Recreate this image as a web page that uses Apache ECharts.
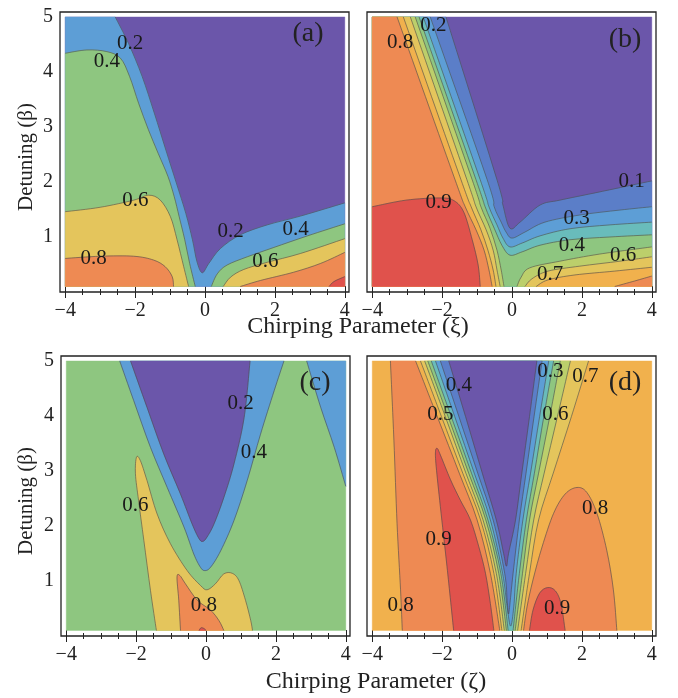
<!DOCTYPE html>
<html><head><meta charset="utf-8">
<script src="https://cdn.jsdelivr.net/npm/echarts@6/dist/echarts.min.js"></script>
<style>html,body{margin:0;padding:0;background:#fff}#c{width:678px;height:698px}</style>
</head><body><div id="c"></div><script>
// ---------- tick values ----------
const xMajorTicks = [-4, -2, 0, 2, 4];
const xMinorTicks = [-3.5, -3, -2.5, -1.5, -1, -0.5, 0.5, 1, 1.5, 2.5, 3, 3.5];
const yMajorTicks = [1, 2, 3, 4, 5];
const yMinorTicks = [0.2,0.4,0.6,0.8,1.2,1.4,1.6,1.8,2.2,2.4,2.6,2.8,3.2,3.4,3.6,3.8,4.2,4.4,4.6,4.8];
// data domain (xi or zeta from -4 to 4, beta from 0.1 to 5)
const domainX = [-4, 4];
const domainY = [0.1, 5];

// ---------- panel (a) contour lines ----------
const a_c02 = [[-2.57,5],[-2.19,4.52],[-1.8,3.92],[-1.45,3.25],[-1.12,2.58],[-0.82,1.98],[-0.55,1.43],[-0.36,0.95],[-0.23,0.55],[-0.08,0.35],[0.11,0.52],[0.44,0.79],[1.01,1.04],[1.78,1.22],[2.73,1.38],[4,1.62]];
const a_c04L = [[-4,4.34],[-3.38,4.4],[-2.81,4.37],[-2.42,4.25],[-2.16,3.92],[-1.9,3.43],[-1.62,2.95],[-1.34,2.52],[-1.06,2.1],[-0.88,1.73],[-0.74,1.37],[-0.58,0.95],[-0.44,0.52],[-0.28,0.1]];
const a_c04R = [[0.18,0.1],[0.35,0.33],[0.63,0.49],[1.21,0.64],[1.97,0.81],[2.93,1.02],[4,1.24]];
const a_c06L = [[-4,1.46],[-3,1.54],[-2.04,1.67],[-1.61,1.76],[-1.28,1.67],[-0.99,1.37],[-0.8,0.95],[-0.61,0.46],[-0.47,0.1]];
const a_c06R = [[0.52,0.1],[0.73,0.27],[1.11,0.41],[1.78,0.54],[2.73,0.7],[4,0.97]];
const a_c08L = [[-4,0.61],[-3,0.65],[-2.04,0.65],[-1.47,0.58],[-1.14,0.46],[-0.94,0.28],[-0.9,0.1]];
const a_c08R = [[1.01,0.1],[1.59,0.21],[2.54,0.36],[3.31,0.52],[4,0.72]];
const a_c10 = [[3.55,0.1],[3.69,0.19],[4,0.28]];
const a_labels = [[-2.14,4.52,'0.2'],[-2.81,4.19,'0.4'],[-1.99,1.67,'0.6'],[-3.19,0.61,'0.8'],[0.73,1.1,'0.2'],[2.59,1.13,'0.4'],[1.73,0.55,'0.6']];

// ---------- panel (b) contour lines ----------
const b_c01 = [[-1.89,5],[-0.43,2.04],[-0.26,1.58],[-0.06,1.16],[0.23,1.27],[0.8,1.58],[1.37,1.67],[2.51,1.82],[4,2.02]];
const b_c02 = [[-2.34,5],[-0.71,2.04],[-0.51,1.55],[-0.31,1.27],[-0.17,1.09],[0,0.98],[0.37,1.09],[0.94,1.27],[1.94,1.4],[3.09,1.49],[4,1.55]];
const b_c03 = [[-2.54,5],[-0.91,2.04],[-0.66,1.55],[-0.43,1.22],[-0.26,0.98],[-0.06,0.82],[0.29,0.89],[0.8,1.02],[1.66,1.15],[2.8,1.22],[4,1.27]];
const b_c04 = [[-2.66,5],[-1.03,2.04],[-0.77,1.55],[-0.51,1.16],[-0.29,0.85],[-0.06,0.67],[0.29,0.73],[0.8,0.85],[1.66,0.95],[2.8,1.0],[4,1.04]];
const b_c05L = [[-2.77,5],[-1.14,2.04],[-0.89,1.55],[-0.63,1.16],[-0.43,0.76],[-0.31,0.4],[-0.23,0.1]];
const b_c05R = [[0.14,0.1],[0.26,0.27],[0.51,0.44],[1.37,0.56],[2.51,0.69],[4,0.82]];
const b_c06L = [[-2.91,5],[-1.29,2.04],[-1.03,1.55],[-0.74,1.13],[-0.54,0.76],[-0.43,0.4],[-0.34,0.1]];
const b_c06R = [[0.37,0.1],[0.57,0.24],[1.03,0.38],[1.94,0.47],[3.09,0.56],[4,0.64]];
const b_c07L = [[-3.11,5],[-1.46,2.04],[-1.17,1.55],[-0.89,1.13],[-0.69,0.76],[-0.54,0.4],[-0.46,0.1]];
const b_c07R = [[0.69,0.1],[1.03,0.22],[1.8,0.31],[2.94,0.38],[4,0.45]];
const b_c08L = [[-3.29,5],[-1.63,2.04],[-1.34,1.55],[-1.03,1.13],[-0.8,0.76],[-0.66,0.4],[-0.57,0.1]];
const b_c08R = [[2.94,0.1],[3.51,0.2],[4,0.29]];
const b_c09 = [[-4,1.55],[-3.03,1.67],[-2.06,1.71],[-1.66,1.66],[-1.38,1.45],[-1.14,0.95],[-0.97,0.49],[-0.91,0.1]];
const b_labels = [[-2.25,4.85,'0.2'],[-3.2,4.53,'0.8'],[-2.1,1.63,'0.9'],[3.42,2.01,'0.1'],[1.85,1.34,'0.3'],[1.71,0.85,'0.4'],[3.18,0.67,'0.6'],[1.09,0.31,'0.7']];

// ---------- panel (c) contour lines ----------
const c_c02 = [[-2.16,5],[-1.69,4.16],[-1.21,3.31],[-0.73,2.58],[-0.4,2.04],[-0.2,1.77],[-0.09,1.72],[0.03,1.8],[0.23,2.04],[0.51,2.52],[0.8,3.13],[1.09,3.97],[1.26,5]];
const c_c04V = [[-2.47,5],[-2.07,4.28],[-1.59,3.43],[-1.11,2.7],[-0.63,1.98],[-0.35,1.49],[-0.16,1.25],[-0.04,1.19],[0.13,1.25],[0.42,1.55],[0.8,2.1],[1.18,2.83],[1.56,3.67],[1.95,4.46],[2.23,5]];
const c_c04R = [[2.88,5],[3.28,4.16],[3.67,3.43],[4,2.72]];
const c_c06 = [[-1.42,0.1],[-1.59,0.83],[-1.78,1.74],[-1.93,2.46],[-2.02,2.95],[-1.99,3.25],[-1.88,3.19],[-1.69,2.83],[-1.4,2.22],[-1.02,1.68],[-0.54,1.19],[-0.16,0.92],[0.03,0.84],[0.27,0.95],[0.51,1.13],[0.75,1.14],[0.94,1.01],[1.13,0.65],[1.28,0.28],[1.33,0.1]];
const c_c08 = [[-0.73,0.1],[-0.78,0.65],[-0.83,1.07],[-0.75,1.1],[-0.59,0.95],[-0.25,0.65],[0.13,0.47],[0.37,0.28],[0.51,0.1]];
const c_c10 = [[-0.2,0.1],[-0.14,0.15],[-0.04,0.13],[-0.01,0.1]];
const c_labels = [[0.99,4.22,'0.2'],[1.37,3.34,'0.4'],[-2.02,2.37,'0.6'],[-0.06,0.56,'0.8']];

// ---------- panel (d) contour lines ----------
const d_c08o = [[-3.48,5],[-3.38,3.56],[-3.29,2.05],[-3.19,0.84],[-3.14,0.1]];
const d_c08L = [[-2.76,5],[-2.14,3.99],[-1.51,2.96],[-1.0,2.11],[-0.62,1.14],[-0.35,0.1]];
const d_c07L = [[-2.62,5],[-2.02,3.99],[-1.41,2.96],[-0.9,2.11],[-0.52,1.14],[-0.29,0.1]];
const d_c06L = [[-2.5,5],[-1.91,3.99],[-1.32,2.96],[-0.83,2.11],[-0.45,1.14],[-0.22,0.1]];
const d_c05L = [[-2.41,5],[-1.83,3.99],[-1.24,2.96],[-0.75,2.11],[-0.38,1.14],[-0.16,0.1]];
const d_c04L = [[-2.31,5],[-1.74,3.99],[-1.16,2.96],[-0.69,2.11],[-0.32,1.14],[-0.11,0.1]];
const d_c03 = [[-2.19,5],[-1.64,3.99],[-1.08,2.96],[-0.62,2.11],[-0.27,1.14],[-0.14,0.53],[-0.04,0.18],[0.05,0.53],[0.12,1.14],[0.31,2.11],[0.53,2.96],[0.79,3.99],[1.05,5]];
const d_c02 = [[-2.05,5],[-1.52,3.99],[-0.98,2.96],[-0.54,2.11],[-0.21,1.14],[-0.14,0.65],[-0.1,0.4],[-0.05,0.65],[0.03,1.14],[0.21,2.11],[0.4,2.96],[0.63,3.99],[0.86,5]];
const d_c01 = [[-1.81,5],[-1.33,3.99],[-0.85,2.96],[-0.45,2.11],[-0.24,1.5],[-0.16,1.27],[-0.1,1.5],[0.1,2.11],[0.28,2.96],[0.5,3.99],[0.71,5]];
const d_c04R = [[0.03,0.1],[0.21,1.14],[0.41,2.11],[0.64,2.96],[0.91,3.99],[1.19,5]];
const d_c05R = [[0.09,0.1],[0.3,1.14],[0.5,2.11],[0.76,2.96],[1.08,3.99],[1.38,5]];
const d_c06R = [[0.16,0.1],[0.39,1.14],[0.62,2.11],[0.92,2.96],[1.3,3.99],[1.67,5]];
const d_c07R = [[0.26,0.1],[0.5,1.14],[0.76,2.11],[1.18,2.96],[1.7,3.99],[2.19,5]];
const d_c09L = [[-1.67,0.1],[-1.86,1.26],[-2.05,2.35],[-2.17,3.08],[-2.19,3.35],[-2.14,3.41],[-2.05,3.29],[-1.76,2.84],[-1.48,2.47],[-1.19,2.11],[-0.95,1.62],[-0.76,1.14],[-0.62,0.59],[-0.52,0.1]];
const d_c08R = [[0.33,0.1],[0.43,0.53],[0.6,1.02],[0.86,1.62],[1.19,2.23],[1.52,2.58],[1.86,2.7],[2.14,2.61],[2.43,2.23],[2.71,1.56],[2.9,0.84],[3.0,0.1]];
const d_c09R = [[0.5,0.1],[0.6,0.47],[0.79,0.78],[1.02,0.88],[1.24,0.82],[1.4,0.59],[1.52,0.1]];
const d_labels = [[-1.52,4.56,'0.4'],[-2.05,4.02,'0.5'],[1.1,4.81,'0.3'],[2.1,4.72,'0.7'],[1.24,4.02,'0.6'],[2.38,2.32,'0.8'],[-2.1,1.75,'0.9'],[-3.19,0.56,'0.8'],[1.29,0.5,'0.9']];

// ---------- styles ----------
const COL = {
  purple:'#6b56aa', blue:'#5b7ec8', lblue:'#5d9ed6', teal:'#69bcbb', green:'#8ec680',
  ygreen:'#bccf6b', yellow:'#e4c55c', yorange:'#f1b14d', orange:'#ee8a53', red:'#e0524c'
};
const LINE_COLOR = 'rgba(75,75,75,0.6)';
const SERIF = '"Liberation Serif","DejaVu Serif",serif';
const XLO = -4.15, XHI = 4.12, YLO = 0, YHI = 5.09;
const GRIDS = [{left:60,top:12},{left:367,top:12},{left:61,top:356},{left:367,top:356}];

// ---------- region construction ----------
const BL=[domainX[0],domainY[0]], BR=[domainX[1],domainY[0]], TL=[domainX[0],domainY[1]], TR=[domainX[1],domainY[1]];
const rev = a => a.slice().reverse();
const R = (segs, corners, color) => ({segs, corners, color});
const RECT = [BL, BR, TR, TL];

const panels = [
  { regions: [
      R([], RECT, COL.purple),
      R([a_c02], [BR,BL,TL], COL.lblue),
      R([a_c04L], [BL], COL.green), R([a_c04R], [BR], COL.green),
      R([a_c06L], [BL], COL.yellow), R([a_c06R], [BR], COL.yellow),
      R([a_c08L], [BL], COL.orange), R([a_c08R], [BR], COL.orange),
      R([a_c10], [BR], COL.red)],
    lines: [a_c02,a_c04L,a_c04R,a_c06L,a_c06R,a_c08L,a_c08R,a_c10], labels: a_labels },
  { regions: [
      R([], RECT, COL.purple),
      R([b_c01], [BR,BL,TL], COL.blue),
      R([b_c02], [BR,BL,TL], COL.lblue),
      R([b_c03], [BR,BL,TL], COL.teal),
      R([b_c04], [BR,BL,TL], COL.green),
      R([b_c05L], [BL,TL], COL.ygreen), R([b_c05R], [BR], COL.ygreen),
      R([b_c06L], [BL,TL], COL.yellow), R([b_c06R], [BR], COL.yellow),
      R([b_c07L], [BL,TL], COL.yorange), R([b_c07R], [BR], COL.yorange),
      R([b_c08L], [BL,TL], COL.orange), R([b_c08R], [BR], COL.orange),
      R([b_c09], [BL], COL.red)],
    lines: [b_c01,b_c02,b_c03,b_c04,b_c05L,b_c05R,b_c06L,b_c06R,b_c07L,b_c07R,b_c08L,b_c08R,b_c09], labels: b_labels },
  { regions: [
      R([], RECT, COL.green),
      R([c_c04V], [], COL.lblue), R([c_c04R], [TR], COL.lblue),
      R([c_c02], [], COL.purple),
      R([c_c06], [], COL.yellow),
      R([c_c08], [], COL.orange),
      R([c_c10], [], COL.red)],
    lines: [c_c02,c_c04V,c_c04R,c_c06,c_c08,c_c10], labels: c_labels },
  { regions: [
      R([], RECT, COL.yorange),
      R([d_c08o, rev(d_c08L)], [], COL.orange),
      R([d_c09L], [], COL.red),
      R([d_c07L, d_c07R], [], COL.yellow),
      R([d_c06L, d_c06R], [], COL.ygreen),
      R([d_c05L, d_c05R], [], COL.green),
      R([d_c04L, d_c04R], [], COL.teal),
      R([d_c03], [], COL.lblue),
      R([d_c02], [], COL.blue),
      R([d_c01], [], COL.purple),
      R([d_c08R], [], COL.orange),
      R([d_c09R], [], COL.red)],
    lines: [d_c08o,d_c08L,d_c07L,d_c06L,d_c05L,d_c04L,d_c03,d_c02,d_c01,d_c04R,d_c05R,d_c06R,d_c07R,d_c09L,d_c08R,d_c09R], labels: d_labels }
];

// smooth curve through pixel points (Catmull-Rom as cubic Bezier)
function spline(P){
  let d='';
  for (let i=0;i<P.length-1;i++){
    const p0=P[i-1]||P[i], p1=P[i], p2=P[i+1], p3=P[i+2]||P[i+1];
    const c1=[p1[0]+(p2[0]-p0[0])/6, p1[1]+(p2[1]-p0[1])/6];
    const c2=[p2[0]-(p3[0]-p1[0])/6, p2[1]-(p3[1]-p1[1])/6];
    d+=' C'+c1[0].toFixed(2)+','+c1[1].toFixed(2)+' '+c2[0].toFixed(2)+','+c2[1].toFixed(2)+' '+p2[0].toFixed(2)+','+p2[1].toFixed(2);
  }
  return d;
}
function regionPath(r, api){
  let d='', started=false;
  r.segs.forEach(s=>{
    const P=s.map(p=>api.coord(p));
    d+=(started?' L':'M')+P[0][0]+','+P[0][1]; started=true;
    d+=spline(P);
  });
  r.corners.forEach(c=>{ const p=api.coord(c); d+=(started?' L':'M')+p[0]+','+p[1]; started=true; });
  return d+' Z';
}
function linePath(s, api){
  const P=s.map(p=>api.coord(p));
  return 'M'+P[0][0]+','+P[0][1]+spline(P);
}

// ---------- axes ----------
const fmt = v => String(v).replace('-', '\u2212');
function axisDef(kind, gi, pos, ticks, len, showLabel){
  return {
    type:'value', gridIndex:gi, position:pos,
    min: kind==='x'?XLO:YLO, max: kind==='x'?XHI:YHI,
    axisLine:{show:false}, splitLine:{show:false},
    axisTick:{show:true, inside:true, length:len, customValues:ticks, lineStyle:{color:'#222', width:1}},
    axisLabel:{show:showLabel, customValues:ticks, margin: kind==='x'?9:7, color:'#222',
      fontFamily:SERIF, fontSize:20, formatter:fmt}
  };
}
const xAxes=[], yAxes=[];
GRIDS.forEach((g,gi)=>{
  xAxes.push(axisDef('x',gi,'bottom',xMajorTicks,6,true));
  xAxes.push(axisDef('x',gi,'bottom',xMinorTicks,3,false));
  xAxes.push(axisDef('x',gi,'top',xMajorTicks,6,false));
  xAxes.push(axisDef('x',gi,'top',xMinorTicks,3,false));
  yAxes.push(axisDef('y',gi,'left',yMajorTicks,6,gi%2===0));
  yAxes.push(axisDef('y',gi,'left',yMinorTicks,3,false));
  yAxes.push(axisDef('y',gi,'right',yMajorTicks,6,false));
  yAxes.push(axisDef('y',gi,'right',yMinorTicks,3,false));
});

// ---------- series ----------
const series=[];
panels.forEach((p,gi)=>{
  series.push({
    type:'custom', xAxisIndex:4*gi, yAxisIndex:4*gi, silent:true, z:2, animation:false,
    data: p.regions.map(r => (r.segs.length? r.segs[0][0] : r.corners[0])),
    renderItem:(params, api)=>{
      const r=p.regions[params.dataIndex];
      return {type:'path', z2:params.dataIndex, shape:{pathData:regionPath(r, api)},
        style:{fill:r.color, stroke:r.color, lineWidth:0.4}};
    }
  });
  series.push({
    type:'custom', xAxisIndex:4*gi, yAxisIndex:4*gi, silent:true, z:3, animation:false,
    data: p.lines.map(s=>s[0]),
    renderItem:(params, api)=>({type:'path', shape:{pathData:linePath(p.lines[params.dataIndex], api)},
      style:{fill:null, stroke:LINE_COLOR, lineWidth:1}})
  });
  series.push({
    type:'custom', xAxisIndex:4*gi, yAxisIndex:4*gi, silent:true, z:4, animation:false,
    data: p.labels,
    renderItem:(params, api)=>{
      const v=p.labels[params.dataIndex]; const c=api.coord([v[0],v[1]]);
      return {type:'text', x:c[0], y:c[1], style:{text:v[2], fill:'#1a1a1a', font:'21px '+SERIF,
        align:'center', verticalAlign:'middle'}};
    }
  });
});

const option = {
  animation:false,
  backgroundColor:'#fff',
  grid: GRIDS.map(g=>({left:g.left, top:g.top, width:289, height:280, show:true,
    borderColor:'#222', borderWidth:1.3, backgroundColor:'#fff', containLabel:false})),
  xAxis:xAxes, yAxis:yAxes, series,
  graphic:[
    {type:'text', x:26, y:157, rotation:Math.PI/2, style:{text:'Detuning (\u03b2)', font:'21px '+SERIF, fill:'#222', align:'center', verticalAlign:'middle'}},
    {type:'text', x:26, y:501, rotation:Math.PI/2, style:{text:'Detuning (\u03b2)', font:'21px '+SERIF, fill:'#222', align:'center', verticalAlign:'middle'}},
    {type:'text', x:358, y:327, style:{text:'Chirping Parameter (\u03be)', font:'24px '+SERIF, fill:'#222', align:'center', verticalAlign:'middle'}},
    {type:'text', x:376, y:682, style:{text:'Chirping Parameter (\u03b6)', font:'24px '+SERIF, fill:'#222', align:'center', verticalAlign:'middle'}},
    {type:'text', x:308, y:34, z:100, style:{text:'(a)', font:'28px '+SERIF, fill:'#222', align:'center', verticalAlign:'middle'}},
    {type:'text', x:625, y:40, z:100, style:{text:'(b)', font:'28px '+SERIF, fill:'#222', align:'center', verticalAlign:'middle'}},
    {type:'text', x:315, y:383, z:100, style:{text:'(c)', font:'28px '+SERIF, fill:'#222', align:'center', verticalAlign:'middle'}},
    {type:'text', x:625, y:383, z:100, style:{text:'(d)', font:'28px '+SERIF, fill:'#222', align:'center', verticalAlign:'middle'}}
  ]
};
const chart = echarts.init(document.getElementById('c'), null, {renderer:'canvas'});
chart.setOption(option);
</script></body></html>
